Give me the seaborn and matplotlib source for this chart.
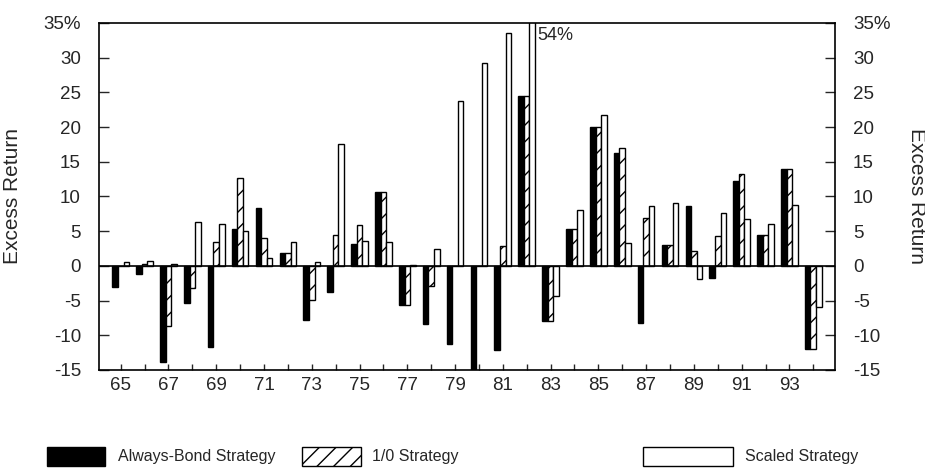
import matplotlib
matplotlib.use("Agg")
import matplotlib.pyplot as plt
from matplotlib.patches import Rectangle
import pandas as pd
import seaborn as sns

# data (excess return, %)
years = list(range(65, 95))
always_bond = [-3.1, -1.2, -13.9, -5.4, -11.7, 5.3, 8.4, 1.9, -7.8, -3.7,
               3.2, 10.7, -5.7, -8.3, -11.3, -15.5, -12.1, 24.5, -7.9, 5.3,
               20.0, 16.2, -8.2, 3.0, 8.7, -1.7, 12.3, 4.4, 14.0, -12.0]
one_zero = [0.0, 0.25, -8.6, -3.2, 3.4, 12.6, 4.0, 1.9, -4.9, 4.4,
            5.9, 10.7, -5.7, -2.9, 0.0, 0.0, 2.9, 24.5, -7.9, 5.3,
            20.0, 17.0, 6.9, 3.0, 2.1, 4.3, 13.3, 4.4, 14.0, -12.0]
scaled = [0.5, 0.7, 0.3, 6.3, 6.1, 5.0, 1.1, 3.5, 0.6, 17.6,
          3.6, 3.5, 0.2, 2.4, 23.7, 29.2, 33.6, 54.0, -4.3, 8.0,
          21.8, 3.3, 8.6, 9.1, -1.9, 7.6, 6.8, 6.0, 8.8, -5.9]
strategies = ["Always-Bond Strategy", "1/0 Strategy", "Scaled Strategy"]
y_ticks = list(range(-15, 40, 5))
y_tick_labels = ["-15", "-10", "-5", "0", "5", "10", "15", "20", "25", "30", "35%"]

# long table for seaborn
rows = []
for name, vals in zip(strategies, [always_bond, one_zero, scaled]):
    for yr, v in zip(years, vals):
        rows.append({"year": str(yr), "strategy": name, "value": v})
df = pd.DataFrame(rows)

sns.set_style("ticks")
plt.rcParams["font.family"] = ["Liberation Sans", "DejaVu Sans"]
plt.rcParams["hatch.linewidth"] = 1.0

fig = plt.figure(figsize=(9.25, 4.68), dpi=100)
ax = fig.add_axes([99 / 925, 1 - 370 / 468, 736 / 925, 347 / 468])

sns.barplot(data=df, x="year", y="value", hue="strategy",
            order=[str(y) for y in years], hue_order=strategies,
            palette=["black", "white", "white"], saturation=1,
            width=0.7, edgecolor="black", linewidth=1.0,
            legend=False, ax=ax)

# hatch the 1/0 bars
for bar in ax.containers[1]:
    bar.set_hatch("//")

ax.axhline(0, color="black", linewidth=1.2)
ax.set_xlim(-0.91, len(years) - 1 + 0.91)
ax.set_ylim(-15, 35)

ax.set_yticks(y_ticks)
ax.set_yticklabels(y_tick_labels)
ax.set_xticks(range(len(years)))
ax.set_xticklabels([str(y) if i % 2 == 0 else "" for i, y in enumerate(years)])

ax.tick_params(axis="y", direction="in", length=7, width=1, labelsize=13.5,
               pad=13, right=True, labelright=True)
ax.tick_params(axis="x", direction="in", length=4.5, width=1, labelsize=13.5, pad=5)
for s in ax.spines.values():
    s.set_visible(True)
    s.set_linewidth(1.2)
    s.set_color("black")

ax.set_xlabel("")
ax.set_ylabel("Excess Return", fontsize=15)
ax.yaxis.set_label_coords(-0.105, 0.5)
ax.text(1.111, 0.5, "Excess Return", rotation=-90, fontsize=15,
        ha="center", va="center", transform=ax.transAxes)

# clipped bar annotation
ax.text(years.index(82) + 0.45, 33.2, "54%", fontsize=13, ha="left", va="center")

# legend drawn below the chart
legend_items = [
    ("Always-Bond Strategy", "black", "", 47, 58, 118),
    ("1/0 Strategy", "white", "//", 302, 59, 372),
    ("Scaled Strategy", "white", "", 643, 90, 745),
]
for label, fc, hatch, x0, w, tx in legend_items:
    fig.add_artist(Rectangle((x0 / 925, 1 - 466 / 468), w / 925, 19 / 468,
                             transform=fig.transFigure, facecolor=fc,
                             edgecolor="black", linewidth=1.0, hatch=hatch))
    fig.text(tx / 925, 1 - 457 / 468, label, fontsize=11.5, ha="left", va="center")

fig.savefig("out.png", dpi=100)
